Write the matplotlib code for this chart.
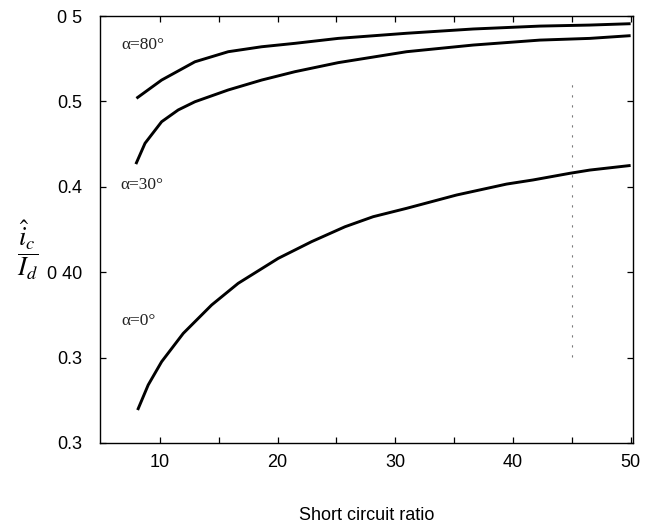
import matplotlib
matplotlib.use("Agg")
import matplotlib.pyplot as plt
import numpy as np

# short circuit ratio samples per curve
scr_80 = [8.0, 10.14, 12.97, 15.8, 18.64, 21.47, 25.15, 30.96, 36.62, 42.29, 46.53, 50.0]
val_80 = [0.5018, 0.5125, 0.5232, 0.5291, 0.5320, 0.5340, 0.5369, 0.5399, 0.5424, 0.5441, 0.5447, 0.5455]

scr_30 = [7.95, 8.73, 10.14, 11.55, 12.97, 15.8, 18.64, 21.47, 25.15, 30.96, 36.62, 42.29, 46.53, 50.0]
val_30 = [0.4633, 0.4755, 0.4881, 0.4950, 0.4998, 0.5067, 0.5125, 0.5174, 0.5227, 0.5291, 0.5330, 0.5359, 0.5369, 0.5385]

scr_0 = [8.1, 9.0, 10.14, 11.98, 14.39, 16.65, 20.05, 22.89, 25.72, 28.12, 30.96, 35.21, 39.46, 41.7, 44.83, 46.53, 50.0]
val_0 = [0.3193, 0.3340, 0.3476, 0.3642, 0.3808, 0.3935, 0.4081, 0.4179, 0.4266, 0.4325, 0.4374, 0.4452, 0.4516, 0.4540, 0.4579, 0.4598, 0.4625]

curve_labels = ["α=80°", "α=30°", "α=0°"]
label_pos = [(6.75, 0.533), (6.6, 0.451), (6.75, 0.3714)]

x_ticks = [10, 20, 30, 40, 50]
x_minor = [15, 25, 35, 45]
y_ticks = [0.30, 0.35, 0.40, 0.45, 0.50, 0.55]
y_tick_labels = ["0.3", "0.3", "0 40", "0.4", "0.5", "0 5"]


def main():
    plt.rcParams["mathtext.fontset"] = "stix"
    fig = plt.figure(figsize=(6.5, 5.25), dpi=100)
    ax = fig.add_axes([0.1538, 0.1562, 0.820, 0.8133])

    for xs, ys in ((scr_80, val_80), (scr_30, val_30), (scr_0, val_0)):
        ax.plot(xs, ys, color="black", linewidth=2.1, solid_capstyle="butt")

    for text, (tx, ty) in zip(curve_labels, label_pos):
        ax.text(tx, ty, text, fontsize=12.5, family="Liberation Serif",
                color="#222222", va="center", ha="left")

    # faint scan remnant of the grid line at 45
    ax.plot([45, 45], [0.3503, 0.5125], color="#777777", linewidth=0.8,
            linestyle=(0, (2, 7)))

    ax.set_xlim(4.9, 50.2)
    ax.set_ylim(0.30, 0.55)
    ax.set_xticks(x_ticks)
    ax.set_xticks(x_minor, minor=True)
    ax.set_yticks(y_ticks)
    ax.set_yticklabels(y_tick_labels)

    ax.tick_params(which="both", direction="in", top=True, right=True,
                   length=4, width=0.9, color="black")
    ax.tick_params(axis="y", pad=13, labelsize=13)
    ax.tick_params(axis="x", pad=8, labelsize=13)
    for lab in ax.get_xticklabels() + ax.get_yticklabels():
        lab.set_family("Liberation Sans")
    for spine in ax.spines.values():
        spine.set_linewidth(1.0)

    ax.set_xlabel("Short circuit ratio", fontsize=13, family="Liberation Sans",
                  labelpad=26)
    fig.text(28 / 650, 1 - 250 / 525, r"$\dfrac{\hat{i}_c}{I_d}$", fontsize=19,
             ha="center", va="center")

    fig.savefig("out.png", dpi=100)


if __name__ == "__main__":
    main()
